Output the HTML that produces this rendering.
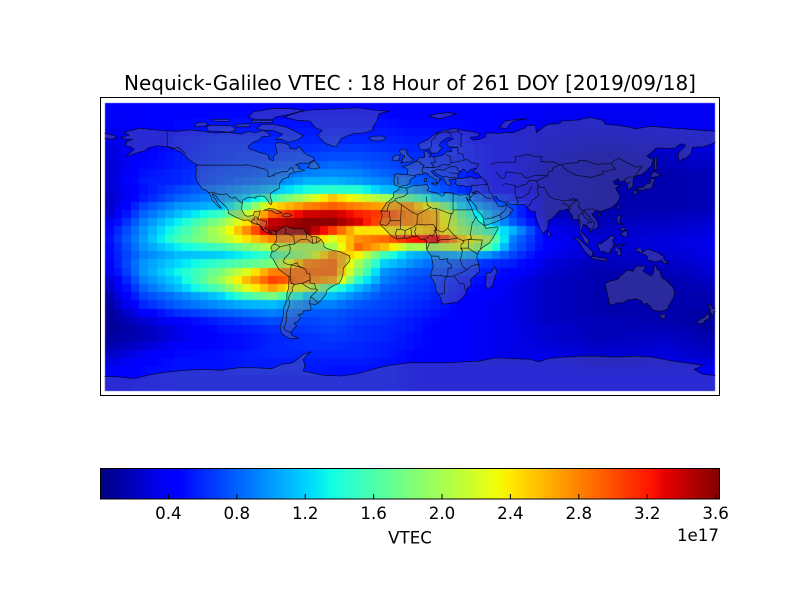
<!DOCTYPE html>
<html><head><meta charset="utf-8"><style>
html,body{margin:0;padding:0;background:#fff;}
#wrap{position:relative;width:800px;height:600px;overflow:hidden;background:#fff;}
canvas,svg{position:absolute;left:0;top:0;}
text{font-family:"DejaVu Sans","Liberation Sans",sans-serif;fill:#000;}
</style></head><body><div id="wrap">
<canvas id="cv" width="800" height="600"></canvas>
<svg width="800" height="600" viewBox="0 0 800 600" xmlns="http://www.w3.org/2000/svg">
<defs>
<clipPath id="mc" clipPathUnits="userSpaceOnUse"><rect x="104.5" y="103" width="611" height="288"/></clipPath>
<linearGradient id="jet" x1="0" y1="0" x2="1" y2="0">
<stop offset="0" stop-color="rgb(0,0,128)"/>
<stop offset="0.11" stop-color="rgb(0,0,255)"/>
<stop offset="0.125" stop-color="rgb(0,0,255)"/>
<stop offset="0.34" stop-color="rgb(0,219,255)"/>
<stop offset="0.35" stop-color="rgb(0,230,247)"/>
<stop offset="0.375" stop-color="rgb(21,255,226)"/>
<stop offset="0.64" stop-color="rgb(239,255,8)"/>
<stop offset="0.65" stop-color="rgb(247,245,0)"/>
<stop offset="0.66" stop-color="rgb(255,236,0)"/>
<stop offset="0.89" stop-color="rgb(255,19,0)"/>
<stop offset="0.91" stop-color="rgb(232,0,0)"/>
<stop offset="1" stop-color="rgb(128,0,0)"/>
</linearGradient>
</defs>
<g clip-path="url(#mc)">
<g transform="translate(410,246.5) scale(1.722222,-1.661111)" fill="rgb(128,128,128)" fill-opacity="0.33" stroke="#000" stroke-opacity="0.8" stroke-width="0.7" stroke-linejoin="round">
<polygon vector-effect="non-scaling-stroke" points="-168,65.6 -163,67 -166,68.9 -157,71.2 -150,70.4 -141,69.6 -135,69.4 -128,70.2 -120,69.4 -113,68.2 -106,68.8 -98,67.8 -94,69.2 -90,68.6 -85,69.8 -82,68.2 -81,66.6 -86,66 -87.5,64.2 -91,62.8 -94.2,60 -93,58.8 -88,56.8 -82.3,55.2 -82,52.8 -79.5,51.5 -79,54.5 -77,56.2 -77.5,58.2 -78.2,60.8 -77.5,62.5 -73,62.2 -70,61 -69.6,59 -66,58.6 -64.5,60.3 -61.5,56.5 -60,55.3 -56,53.6 -55.7,52 -59,50.2 -64,50.2 -66.5,49.2 -64.3,48.3 -64.8,46.9 -61,45.8 -66,44.9 -70,43.7 -70.6,41.6 -74,40.6 -75.5,38.5 -76,37 -75.5,35.3 -77.9,34 -81,32 -81.2,30 -80.1,26.8 -80.6,25.2 -81.7,25.9 -82.8,28 -84.3,30 -86.5,30.4 -89.5,30.2 -89.4,29 -91,29.3 -93.8,29.7 -97.2,27.8 -97.5,25 -97.8,22.3 -96,19 -94.5,18.2 -91,18.6 -90.4,21 -87,21.5 -87.6,18.8 -88.3,16 -86,16 -83.2,15 -83.8,11 -81.7,9 -79.5,9.6 -77.4,8.7 -78.2,7.5 -80.4,7.3 -80.2,8.4 -81.8,8.2 -83.6,8.7 -85.7,10 -85.8,11.5 -87.5,13 -91,13.9 -94,16 -96.5,15.7 -101,17.5 -105.5,20 -105.5,21.5 -106.6,23.6 -109,26 -111,28 -112.8,30.5 -114.8,31.7 -114.3,30 -113,28.5 -112,26.5 -110.5,24.2 -109.5,23.2 -110.2,23 -112.1,24.8 -114.2,27.2 -115.1,28 -115.7,30.4 -117.1,32.6 -118.5,34 -120.6,34.6 -122.5,37.5 -123.8,39.6 -124.4,42.5 -124,46.2 -124.7,48.4 -123,48.9 -125,50 -127.9,52 -130.3,54.5 -133,57 -136.5,58.2 -139.8,59.8 -146,60.7 -151.5,59.5 -154,57.6 -158,56.5 -161.8,55.2 -164.8,54.4 -160,58.5 -162,59.9 -165,60.8 -164.5,63.2 -161,64.6 -165,64.6"/>
<polygon vector-effect="non-scaling-stroke" points="-73,78 -66,80.5 -60,82 -45,82.8 -30,83.5 -20,82 -12,81.5 -18,80 -19,76 -21.5,72 -22,70 -27,68.3 -33,67.9 -40,65 -42.8,60.1 -45,60.5 -49,62 -52,65 -53.5,67 -51,70 -55,71.5 -58,75.5 -66,76"/>
<polygon vector-effect="non-scaling-stroke" points="-62,66.8 -64,65 -67,63.7 -71,62.8 -74.5,64.5 -78,64.5 -74,67.5 -76,68.5 -80,70 -85,70 -89,71 -86,73.5 -80,73.7 -72,72 -67,69.5"/>
<polygon vector-effect="non-scaling-stroke" points="-118,71.5 -117.5,73 -110,73 -103,72.5 -101,70 -105,68.8 -112,69.4 -117,69.5"/>
<polygon vector-effect="non-scaling-stroke" points="-125,71.9 -117,72.9 -119,75 -124,74.3"/>
<polygon vector-effect="non-scaling-stroke" points="-90,76.5 -80,76.3 -78,78 -72,79 -65,81 -62,82.2 -70,83 -80,83 -91,81 -94,78"/>
<polygon vector-effect="non-scaling-stroke" points="-92,74.5 -80,74.5 -80,76 -92,76"/>
<polygon vector-effect="non-scaling-stroke" points="-114,75.5 -105,75.2 -105,76.5 -115,76.5"/>
<polygon vector-effect="non-scaling-stroke" points="-101,72 -93,72 -93,74 -101,73.5"/>
<polygon vector-effect="non-scaling-stroke" points="-59.4,47.6 -55.5,46.6 -52.6,47.5 -53.5,49.5 -55.6,51.6 -57.5,50.7"/>
<polygon vector-effect="non-scaling-stroke" points="-85,21.8 -82,22.8 -78.5,22.5 -74.2,20.2 -77.6,19.9 -81,21.8"/>
<polygon vector-effect="non-scaling-stroke" points="-74.4,18.4 -72.8,19.9 -69.8,19.6 -68.4,18.6 -71.5,17.8"/>
<polygon vector-effect="non-scaling-stroke" points="-77.4,8.7 -75.5,10.5 -74,11.3 -71.5,12.4 -70.5,11.5 -68,10.6 -64,10.6 -61.8,10.7 -60.5,8.5 -57,6 -54,5.8 -51.5,4.2 -50,1.8 -50,0 -48.5,-1 -44.5,-2.5 -41,-2.9 -37.5,-4.6 -35.2,-5.5 -34.8,-7.5 -35.2,-9 -37,-11 -38.7,-13 -39,-17.5 -39.7,-19.5 -41,-22 -43,-23 -45,-23.8 -48.5,-26.5 -48.7,-28.5 -50.5,-31 -53,-33.8 -54.9,-34.9 -57.8,-34.5 -58.4,-34 -57.6,-36.3 -57.5,-38.2 -62,-38.9 -62.3,-40.5 -65,-41 -63.5,-42.8 -65,-45 -67.5,-46.3 -65.8,-47.8 -68.3,-50.5 -69,-52.2 -68.5,-53.5 -65,-55 -68,-55.6 -71,-55 -74.5,-52.5 -75.5,-48 -74,-44 -73.5,-41 -73.5,-37 -71.5,-32.5 -71.5,-28.5 -70.5,-25 -70.2,-18.4 -71.5,-17.3 -76,-14 -77.2,-12 -79.5,-7.5 -81.2,-6 -80.3,-3.4 -80,-2.2 -80.9,-1 -80,0.8 -78.9,1.5 -77.5,3.8 -77.5,6.5 -77.9,7.2"/>
<polygon vector-effect="non-scaling-stroke" points="-5.9,35.8 -2,35.1 1,36.5 5,36.8 10,37.2 11,35.2 10,34 11,33.2 15.2,32.3 19,30.3 20,31.6 20,32.6 23,32.6 25,31.8 29,30.9 32,31.2 34.2,31.3 34.9,29.5 34.2,27.8 33.6,28.3 32.6,29.9 33.6,27.5 35.5,24 37.4,18.5 38.6,17.5 39.7,15.2 43.3,12.6 44,11 51.2,11.9 51,10.4 48,4.8 46,2 42.2,-0.5 40,-2.8 39.2,-4.7 38.8,-6.5 39.6,-10 40.5,-15 37.5,-17.8 35,-20 35.5,-23.5 32.8,-25.8 32.4,-28.5 30.5,-31 27.5,-33.5 25,-34 22,-34.3 20,-34.8 18.4,-34 18,-32 17,-29 15.2,-27 14.5,-22.5 11.8,-17.5 13.5,-12 13,-8.8 12,-5 9.7,-2 9.4,1 9.8,3 8.5,4.5 6,4.3 4.5,6.3 1.5,6.1 -1.8,4.8 -4,5.2 -7.5,4.4 -9.5,5.5 -11.5,7 -13.2,8.9 -15,10.9 -16.7,12.4 -17.5,14.7 -16.5,16.3 -16.2,19.2 -17,21 -15,24 -13.5,26.5 -11.4,28 -9.7,29.8 -9.6,32.5 -6.8,34"/>
<polygon vector-effect="non-scaling-stroke" points="49.3,-12 50.5,-15.5 49.7,-17 47.8,-24 45.2,-25.5 43.6,-23.5 44.2,-20 44.2,-16.5 47,-15.6"/>
<polygon vector-effect="non-scaling-stroke" points="-5.6,36 -9,36.9 -8.9,38.5 -9.5,39.5 -8.7,42 -9.3,43.1 -8,43.7 -4,43.4 -1.5,43.4 -1.2,46 -2.4,47.2 -4.6,48.4 -1.6,48.7 1.4,50.1 3,51.2 4.3,52 5,53.3 8.5,53.6 8.6,55.5 8.1,56.8 10.4,57.6 10.5,56 12.5,55.6 10.9,54 14.2,53.9 18.5,54.8 21,56.5 21.5,57.4 24.2,57.2 23.5,59.2 28,59.7 23,60 21.4,61 21.5,63 25.4,65 22.2,65.8 17.8,62.8 17,60.7 18.8,59.5 16,56.3 12.7,56.2 11,58.8 8,58.1 5.6,58.4 5,61.8 10.5,64.4 14.6,67.8 19,69.8 25.8,71 31,69.8 37,69 41,67.6 38.5,66 34.8,65.8 36.3,64.1 40.5,64.5 44,66.1 44.2,68.4 53.5,68.1 54.5,68.8 60,68.5 66.5,71.2 68.2,73 72.8,72.8 73.4,68.5 78,72.2 80.5,73.5 87,74 88,75.5 98,76.2 104.3,77.7 112,76 113.5,73.4 120,73 128,71.8 131,70.8 140,72.4 150,71.4 159,70.8 170,69.8 178,69.4 180,69 180,65.2 178.6,64.5 177,62.5 173,61 170,60 164,59.8 163.3,56.2 162,54.8 160,53 158.5,52.9 156.7,51 156,53 155.6,55.5 156.8,57.5 160,60.5 159,61.8 156.5,61.5 154,59.3 151.5,59.1 143,59.3 137.5,54.2 141.3,52.3 140,48.4 135,43.5 131.6,42.6 129.7,41 129.5,38.5 129.4,36.1 127.6,34.7 126.4,34.5 126.3,37.6 124.7,39.7 121.2,38.8 121.2,40.8 118,39.2 119.2,37.2 122.5,36.9 120.5,36 119.4,35 120.9,32.3 121.9,30.8 121.5,28.4 119.6,25.6 117,23.5 113.8,22.2 110.5,21.1 110,20.3 109.6,21.8 108,21.6 106.7,20.7 105.7,19 108.9,15.3 109.3,11.6 106.2,10.2 104.8,8.6 104.5,10.5 102.5,12.3 100.8,13.5 99.2,9.2 101.2,6.9 103.5,4.5 104.2,1.3 103.3,1.5 101.3,2.9 100.3,5.3 98.5,8.4 98.2,12.6 97.8,16.4 94.8,16 94.2,18.8 92.4,20.7 91.5,22.7 88.9,21.8 86.9,21.6 85,19.5 82.1,16.5 80.3,15.8 80,10.6 77.5,8 76.6,8.9 74.9,12.7 73.5,16 72.8,19.3 72.6,21.3 70.5,20.9 69,22.4 66.6,25.4 62,25.1 57.4,25.7 56.5,27 54.7,26.5 51.5,27.9 50.1,30.1 48.6,29.9 48,30 49.6,27.3 50.8,25.4 51.3,24.2 54,24.1 56.2,25.7 56.8,24.2 59.8,22.3 58.5,20.4 57.7,19 55.3,17.3 52.2,15.9 49.6,14.7 45.6,13.3 43.5,12.7 42.6,15.2 42.8,16.6 41.2,19.5 39.1,21.3 38.5,23.7 35.1,28.1 34.6,28 34.9,29.5 34.3,31.3 35.5,33.9 36,35.8 36.1,36.7 34,36.2 32.5,36.1 30.6,36.7 27.6,36.7 26.3,38.2 26.8,39.5 26.2,40.9 29,41.1 31.2,41.1 35.2,42 38.3,40.9 41.6,41.5 39.5,44.1 37.4,44.5 36.7,45.3 38.7,47.1 35,46.3 33.5,44.5 32.5,45.3 31.8,46.3 30.7,46.6 29.6,45.1 28.8,44.9 27.7,42.6 28,41.6 26.2,40.8 23.9,40.1 22.6,40.3 24,37.7 22.8,36.5 21.3,37.6 20,39.7 19.4,41.8 15.9,43.5 13.6,45.6 12.3,45.3 13.5,43.6 16,41.9 18.5,40.1 17.2,40.4 16.6,39.3 17.1,39 16.1,38 15.7,38 15.6,40 14,40.8 12.5,41.6 11.2,42.4 10.2,43.9 8.9,44.4 7.5,43.8 6.5,43.1 4.6,43.4 3.1,43 3.2,41.9 0.8,41 -0.3,39.3 0.1,38.7 -0.7,37.6 -2.1,36.7 -4.4,36.7"/>
<polygon vector-effect="non-scaling-stroke" points="-180,69 -175,67.5 -171,66.5 -170,66 -173,64.5 -176,65.2 -180,65.2"/>
<polygon vector-effect="non-scaling-stroke" points="-5.7,50.1 -3,50.7 1.3,51.1 1.7,52.7 0.3,53.4 -0.5,54.5 -1.6,55.6 -2.1,57.5 -1.8,57.6 -3,58.6 -5,58.6 -6.2,57.5 -5.6,56.3 -4.9,55.1 -3.1,54.9 -3.4,54.4 -3,53.4 -4.6,53.3 -4.2,52.3 -5.3,51.8 -4.2,51.2"/>
<polygon vector-effect="non-scaling-stroke" points="-6,52.2 -6,53.5 -5.7,54.6 -7.3,55.3 -8.5,54.6 -10,54.2 -9.7,53.4 -10.3,52.1 -9.6,51.5 -8,51.7"/>
<polygon vector-effect="non-scaling-stroke" points="-22,63.9 -24,65.5 -22,66.4 -16,66.5 -14,65.5 -14.5,64.4 -18.7,63.4"/>
<polygon vector-effect="non-scaling-stroke" points="11,78.5 16,80 22,80.5 27,80 22,78.3 18,77 14,77.5"/>
<polygon vector-effect="non-scaling-stroke" points="52,71.5 56,71 58,73.5 60,75.5 68,77 62,76.5 55,75.5"/>
<polygon vector-effect="non-scaling-stroke" points="12.4,38.1 15.6,38.3 15.1,36.7"/>
<polygon vector-effect="non-scaling-stroke" points="8.4,41 9.8,41 9.6,39 8.4,39"/>
<polygon vector-effect="non-scaling-stroke" points="130.9,33.9 132.5,35.4 135.5,35.6 136.8,37.3 139.5,38.2 140,40.5 141.4,41.4 142,39.5 141,38 140.9,36 139.9,35 138.8,34.6 137,34.6 135.2,33.8 133,34.4"/>
<polygon vector-effect="non-scaling-stroke" points="129.7,33.3 131,33.9 132,33 131.2,31.3 130.2,31.2"/>
<polygon vector-effect="non-scaling-stroke" points="140,41.5 139.8,42.6 141.6,45.4 143.7,44.2 145.6,43.3 143.3,42 141.1,41.8"/>
<polygon vector-effect="non-scaling-stroke" points="142,46 143.5,46.5 143,49 143.3,51.8 143,54 142.3,54 142,51 141.9,48"/>
<polygon vector-effect="non-scaling-stroke" points="79.8,9.8 81.8,7.5 81.2,6.2 80,6"/>
<polygon vector-effect="non-scaling-stroke" points="121.5,25.3 122,24 120.8,22 120.1,23.3"/>
<polygon vector-effect="non-scaling-stroke" points="108.6,19.2 110.5,20.1 111,19.6 109.5,18.2"/>
<polygon vector-effect="non-scaling-stroke" points="120.6,18.5 122.2,18.5 122,16.3 121.6,15.9 122,14 124,13 123.3,13.8 121.3,13.6 120.6,14.4 120,16"/>
<polygon vector-effect="non-scaling-stroke" points="122,7.3 123.6,8.6 125.4,9.8 126.5,7.5 126,6.3 125.2,5.6 124,6.4"/>
<polygon vector-effect="non-scaling-stroke" points="122,10.5 124,11.5 125.5,11 124.5,10 122.8,9.2"/>
<polygon vector-effect="non-scaling-stroke" points="109.6,1.9 111,1.6 113,3.2 115.5,5.2 117,7 118,6 119.2,5.3 118,4.3 117.6,3 118.9,1 117.9,0.8 117.5,-0.8 116.5,-1.5 116.2,-3.7 114.6,-4 113,-3.1 110.2,-2.9 110,-1.4 109,0.3"/>
<polygon vector-effect="non-scaling-stroke" points="95.3,5.5 97.5,5.2 100.6,2.1 103.8,-0.9 106,-3.1 105.8,-5.8 104.6,-5.9 102.6,-4.2 100.9,-2.1 98.6,1.8"/>
<polygon vector-effect="non-scaling-stroke" points="105.2,-6.8 106.1,-5.9 108.5,-6.4 110.5,-6.9 112.6,-6.9 114.5,-7.8 114.5,-8.7 110.5,-8.2 108,-7.8 106.5,-7.4"/>
<polygon vector-effect="non-scaling-stroke" points="119,-1 119.8,0.2 120.8,1.3 124.4,1 125,1.6 123,0.4 121.3,0.5 120.1,-0.1 120.8,-1.4 123.2,-0.9 121.5,-1.9 122.5,-3.2 122.2,-5.3 120.3,-5.5 120.4,-2.9 119.2,-3.5 119.4,-5.4"/>
<polygon vector-effect="non-scaling-stroke" points="131,-1.2 134.2,-0.8 135,-3.4 137.9,-1.5 141,-2.6 145,-4.3 146,-5.5 147.6,-6 147.2,-7.4 150,-10.3 147.5,-10.1 146,-8.1 143.3,-9 141,-9.1 139.1,-8.1 138,-8.4 137.6,-5.6 135.2,-4.5 133.7,-3.5 132,-2.8 132.4,-4.1"/>
<polygon vector-effect="non-scaling-stroke" points="113.3,-22 114.2,-26.3 115,-30 115.7,-33.5 115,-34.3 118,-35.1 120,-34 123.5,-33.9 126,-32.3 131.3,-31.5 134.2,-32.6 135.9,-34.9 137.5,-34.1 138.2,-35 139.6,-36.1 140.6,-38 143.6,-38.8 146.3,-39 149.9,-37.5 150,-36 151.2,-33.9 153,-31 153.6,-28 153,-25 150.8,-22.6 149,-20.6 146.3,-19 145.4,-16.3 145.3,-14.9 143.6,-14 142.5,-10.7 141.5,-13.5 141.7,-15 140.6,-17.4 139,-17.3 136,-15.5 135.4,-14.7 136.9,-12.3 136.5,-11.9 134,-11.9 132.5,-11.6 131,-12.2 129.5,-14.9 127.8,-14.3 125.5,-14.5 124,-16.3 122.2,-17.7 121,-19.5 118.8,-20.3 116.7,-20.6 114.6,-21.8"/>
<polygon vector-effect="non-scaling-stroke" points="144.7,-40.7 148.3,-40.9 148,-43.2 146.9,-43.6 145.5,-42.2"/>
<polygon vector-effect="non-scaling-stroke" points="172.7,-34.4 174.3,-35.2 175.9,-37.2 178.5,-37.7 177,-39.3 176,-41.3 174.6,-41.3 175.2,-40.4 173.8,-39.2 174.6,-38"/>
<polygon vector-effect="non-scaling-stroke" points="172.6,-40.5 174.2,-41.7 173,-43.8 171.2,-44.5 170.6,-45.9 169,-46.6 166.5,-46 167,-45.1 168.3,-44 171,-42.5"/>
<polygon vector-effect="non-scaling-stroke" points="-181,-78 -170,-78.5 -160,-79.5 -150,-77 -140,-75.5 -130,-74.5 -120,-74 -110,-74.5 -100,-73 -90,-73 -80,-73.5 -75,-71 -68,-70 -62,-65 -57,-63.3 -59,-64.5 -62,-68 -61,-72 -62,-75 -50,-77.5 -40,-78 -30,-76.5 -20,-73.5 -12,-71.5 0,-70 10,-70 20,-70 30,-69.5 40,-69 50,-67 60,-67.5 70,-68 75,-69.5 80,-67.5 90,-66.5 100,-66 110,-66 120,-66.5 130,-66 140,-66.5 150,-68.5 160,-70 170,-71.5 165,-74 170,-77 181,-78 181,-92 -181,-92"/>
<g fill="none">
<polyline vector-effect="non-scaling-stroke" points="-123,49 -95,49 -95,49.4 -89.5,48 -84.5,46.5 -82.4,45.3 -82.5,42 -79,42.8 -79.2,43.5 -76.5,44.2 -74.7,45 -71.5,45 -70,46.7 -69.2,47.4 -68,47.3 -67.8,45.7 -67,45"/>
<polyline vector-effect="non-scaling-stroke" points="-141,69.6 -141,60.3 -137,59 -135,59.8 -130,55.9"/>
<polyline vector-effect="non-scaling-stroke" points="-117.1,32.6 -114.7,32.7 -111,31.3 -108.2,31.3 -106.5,31.8 -104.5,29.6 -103,29 -101.4,29.8 -99.5,27.5 -97.2,25.9"/>
<polyline vector-effect="non-scaling-stroke" points="-92.2,14.5 -91.4,16 -90.4,16 -90.4,17.8 -89,17.8 -88.3,16"/>
<polyline vector-effect="non-scaling-stroke" points="-89.4,14.4 -87.5,13 -85.7,10 -83.6,11"/>
<polyline vector-effect="non-scaling-stroke" points="-51.6,4.2 -54,2.3 -56.5,1.9 -60,4.5 -64,4 -67,1.5 -70,1.2 -69.5,-1 -70,-4 -73,-7.3 -73.5,-9.5 -70.6,-11 -69,-11 -65.4,-9.8 -65,-11.5 -62,-13 -60.5,-13.8 -60,-16 -58.2,-16.3 -58,-20 -58,-22 -55.5,-22.3 -54.6,-25.6 -53.6,-26.2 -57.6,-30.2 -53.4,-33.7"/>
<polyline vector-effect="non-scaling-stroke" points="-69,-22 -67,-23 -68.5,-25 -68.3,-27 -69.6,-28.5 -70.5,-31 -69.9,-34 -70.3,-36 -71,-38 -71.7,-40 -71.8,-44 -72,-46 -73.3,-49 -72.3,-50.5 -69,-52"/>
<polyline vector-effect="non-scaling-stroke" points="-80.3,-3.4 -78,-2.5 -75.5,-0.2 -70,1.2"/>
<polyline vector-effect="non-scaling-stroke" points="-75.5,-0.2 -77,0.8 -78.9,1.5"/>
<polyline vector-effect="non-scaling-stroke" points="-62,-13 -69,-11 -69.6,-17.5 -70.4,-18.3"/>
<polyline vector-effect="non-scaling-stroke" points="-69.6,-17.5 -69,-22 -67.2,-22.8 -62.6,-22.2 -58,-20"/>
<polyline vector-effect="non-scaling-stroke" points="-62.6,-22.2 -61,-23.5 -57.6,-25.5 -54.6,-25.6"/>
<polyline vector-effect="non-scaling-stroke" points="-57.6,-30.2 -58.4,-34"/>
<polyline vector-effect="non-scaling-stroke" points="-72,11.2 -72.5,8 -67.5,6.2 -67,1.5"/>
<polyline vector-effect="non-scaling-stroke" points="-60,8.3 -60.2,5.2"/>
<polyline vector-effect="non-scaling-stroke" points="-57,6 -56.5,1.9"/>
<polyline vector-effect="non-scaling-stroke" points="-54,5.8 -54.3,2.3"/>
<polyline vector-effect="non-scaling-stroke" points="-17,21.3 -13,21.3 -13,23 -12,26 -8.7,27.7 -8.7,28.7 -3.6,30.2 -1.2,32.1 -2.2,35.1"/>
<polyline vector-effect="non-scaling-stroke" points="-8.7,27.7 -4.8,25 1.2,20.7 4.3,19.2 12,23.5 14,22.6 15,23 24,19.5 24,20 25,20 25,22 36.9,22"/>
<polyline vector-effect="non-scaling-stroke" points="9.5,30 10,25 12,23.5"/>
<polyline vector-effect="non-scaling-stroke" points="25,31.7 25,22"/>
<polyline vector-effect="non-scaling-stroke" points="-16.7,13.2 -13.7,12.6 -12,14.5 -11.5,15.6 -5.5,15.5 -5.4,10.4 -2.8,9.6 0,11 2.3,11.9 4,13.5 8.5,13 13.6,13.2 14.5,12 15.5,10 14,9.6 14.8,8.7 13,6.2 11.8,7 9.5,4.7"/>
<polyline vector-effect="non-scaling-stroke" points="-11.5,15.6 -12,21.3"/>
<polyline vector-effect="non-scaling-stroke" points="-5.5,15.5 -5,24.8"/>
<polyline vector-effect="non-scaling-stroke" points="4,13.5 4.3,19.2"/>
<polyline vector-effect="non-scaling-stroke" points="15,23 15.6,20 15.5,10 18.9,8.6 22,11 24,8.5 27.5,5 30.8,3.5 31,3.7 34,4.2 35.9,5 35,7 36.2,14.5 36.5,14.3 38.4,18"/>
<polyline vector-effect="non-scaling-stroke" points="22,11 23,15.6 24,19.5"/>
<polyline vector-effect="non-scaling-stroke" points="14.5,12 16,3.5 18.6,4.2 22.5,4.2 27.5,5"/>
<polyline vector-effect="non-scaling-stroke" points="9.7,-2 11.3,2.2 16,2.2 16,3.5"/>
<polyline vector-effect="non-scaling-stroke" points="12.2,-5.8 16.5,-5.8 17.5,-8 21.8,-7.3 22,-9.7 24,-11 24,-13 22,-13 22,-16.9 20.9,-18.3 25.3,-17.8 29,-16 30.4,-15.6 33,-14 30.5,-12 29.2,-8.2 30.5,-2.4 29.5,-1.4 29.6,1 31,2.3 31,3.7"/>
<polyline vector-effect="non-scaling-stroke" points="11.8,-17.3 18,-17.4 20.9,-18.3 20,-22 20,-24.8 20,-28.4 17,-28.5"/>
<polyline vector-effect="non-scaling-stroke" points="25.3,-17.8 29,-22.2 31.3,-22.4 32,-26.7"/>
<polyline vector-effect="non-scaling-stroke" points="33.9,-1 29.6,-1 30.5,-2.4"/>
<polyline vector-effect="non-scaling-stroke" points="33.9,-1 37.5,-3.5 39.2,-4.7"/>
<polyline vector-effect="non-scaling-stroke" points="34,4.2 41,3.9 42,4 41,-1.6"/>
<polyline vector-effect="non-scaling-stroke" points="34,-1 34,4.2"/>
<polyline vector-effect="non-scaling-stroke" points="33,-14 35.9,-11.5 40.5,-10.5"/>
<polyline vector-effect="non-scaling-stroke" points="3.6,6.3 2.7,9 3.6,11.7"/>
<polyline vector-effect="non-scaling-stroke" points="1.2,6.1 0.5,11"/>
<polyline vector-effect="non-scaling-stroke" points="-3.1,5 -2.8,9.6"/>
<polyline vector-effect="non-scaling-stroke" points="-7.5,4.4 -8.4,7.6 -7.7,10.4 -5.5,10.4"/>
<polyline vector-effect="non-scaling-stroke" points="3,51.2 6,50.8 6.2,49.5 8.2,49 7.6,47.6 10.5,47.5 13,47.5 16.9,48 17,48.6 19,49.4 22.5,49 24,50.5 23.6,52 23.5,54 21,55.2"/>
<polyline vector-effect="non-scaling-stroke" points="14.2,53.9 14.6,51.8 15,51 12.1,50.3 13.8,48.8 13,47.5"/>
<polyline vector-effect="non-scaling-stroke" points="7.6,47.6 7,45.9 7.5,43.8"/>
<polyline vector-effect="non-scaling-stroke" points="-1.8,43.4 3.2,42.4"/>
<polyline vector-effect="non-scaling-stroke" points="-7,42 -7,37.2"/>
<polyline vector-effect="non-scaling-stroke" points="13.6,45.5 16.5,46.5 19,45.9 20.3,46.2 22.7,47.9 26.6,48.2 28.2,45.5 29.6,45.1"/>
<polyline vector-effect="non-scaling-stroke" points="19.4,41.8 21,42.3 23,41.4 26.3,41.7"/>
<polyline vector-effect="non-scaling-stroke" points="22.5,44.5 28,43.8"/>
<polyline vector-effect="non-scaling-stroke" points="28,59.7 27.7,57.5 28.2,56 30.8,55.5 31.5,52.1 34,52.2 35.4,50.5 40,49.6 38.7,47.1"/>
<polyline vector-effect="non-scaling-stroke" points="24,50.5 30,51.5 31.5,52.1"/>
<polyline vector-effect="non-scaling-stroke" points="30.5,59.9 29,61.2 30,63 29.5,64.7 30,67.7 28.5,68.5 28.2,69.8"/>
<polyline vector-effect="non-scaling-stroke" points="11,58.8 12.3,60 12.6,61.5 12.2,63.5 14.5,65.5 16,68 20.5,69 21,69.1 25.8,68.8 28.5,69.8"/>
<polyline vector-effect="non-scaling-stroke" points="24,65.8 23.6,67.9 21,69.1"/>
<polyline vector-effect="non-scaling-stroke" points="50,45 53,41 55,41.2 55.8,45 61,44.3 65,43.7 66.5,41.4 69,41.4 71,42.3 73.5,43 79.8,42.5 80.5,45 82.5,45.5 83,47.2 86.5,49 87.3,49.1"/>
<polyline vector-effect="non-scaling-stroke" points="47,49 48,50 51.5,50.6 55,50.8 61,50.8 61.5,52 61,54 65,54.6 68,55.4 73.5,54 76.5,54.1 76,51.4 80.5,50.8 83,51 87.3,49.1"/>
<polyline vector-effect="non-scaling-stroke" points="87.3,49.1 91,50 98,50.5 98,52 102,51.7 106,50.3 108,49.5 116.7,49.9 119,52 121,53.2 127,50 131,47.8 134.7,48.3 131,43 130.6,42.4"/>
<polyline vector-effect="non-scaling-stroke" points="87.8,49.2 91,46 96,43 105,41.6 112,43.7 111.5,45 114.5,45.4 119.8,46.7 118,48 116.7,49.9"/>
<polyline vector-effect="non-scaling-stroke" points="73.5,39.5 74.5,37 75,35.5 78,35.5 79.5,32.5 81,30 84,28.5 88,27.8 92,27.8 95,29 97,28 98.5,25.5 97.7,24 99.5,22 101,21.5 102,22.4 106.7,22.7 108,21.6"/>
<polyline vector-effect="non-scaling-stroke" points="73.5,39.5 71,40 69,39.5 67.5,37.3 66.5,37.4 62,35.5 61,36.6 55.5,37.9 54,37.3"/>
<polyline vector-effect="non-scaling-stroke" points="73.5,39.5 76,40.5 79.8,42.5"/>
<polyline vector-effect="non-scaling-stroke" points="44,39.4 45.6,35.9 46,33 47.8,31 48,30"/>
<polyline vector-effect="non-scaling-stroke" points="36,37 38.3,36.8 42.4,37.2 44.8,37.2 44,39.4 41.5,41.5"/>
<polyline vector-effect="non-scaling-stroke" points="36,32.3 38.8,33.4 41,32 42,31.1 44.7,29.2 47.5,29"/>
<polyline vector-effect="non-scaling-stroke" points="36,32.3 39,32 37,31.5 35,29.4"/>
<polyline vector-effect="non-scaling-stroke" points="43.3,16.5 47,17 52,19 55.5,22 56,25.3"/>
<polyline vector-effect="non-scaling-stroke" points="52,19 53.2,16.7"/>
<polyline vector-effect="non-scaling-stroke" points="61,36.6 61,31.5 62,29.5 61.5,29 63,27.2 61.6,25.2"/>
<polyline vector-effect="non-scaling-stroke" points="71,36.5 69.5,33.9 69.3,31.9 67,31.2 66.3,29.8 62,29.5"/>
<polyline vector-effect="non-scaling-stroke" points="74.5,37 74,34 74.5,32 75,31 73.9,30 71,27.9 70,25.5 68.2,23.7"/>
<polyline vector-effect="non-scaling-stroke" points="88.1,26.4 89.5,26 89.8,25.2 92,24.8 92.5,21.5"/>
<polyline vector-effect="non-scaling-stroke" points="92,27.8 97,28 95,26.5 93.5,25 92.5,21.5"/>
<polyline vector-effect="non-scaling-stroke" points="101,21.5 104,18 105.3,16 107.5,14.5 106,11 104.5,10.5"/>
<polyline vector-effect="non-scaling-stroke" points="100,20.4 101,18 102.6,16.5 105.5,14.5 103,14.3 102.5,12.3"/>
<polyline vector-effect="non-scaling-stroke" points="98.2,10 99,14 98.5,16 97.5,18.5 100,20.4 101,21.5"/>
<polyline vector-effect="non-scaling-stroke" points="124.3,40 126.5,41.7 128.5,41.8 130.6,42.4"/>
<polyline vector-effect="non-scaling-stroke" points="126.3,37.8 128.4,38.6"/>
</g>
</g>
</g>
<rect x="100.5" y="97.5" width="619" height="298" fill="none" stroke="#000" stroke-width="1"/>
<text x="410" y="90" text-anchor="middle" font-size="20">Nequick-Galileo VTEC : 18 Hour of 261 DOY [2019/09/18]</text>
<rect x="100.5" y="468.5" width="619" height="30.5" fill="url(#jet)" stroke="#000" stroke-width="1"/>
<g stroke="#000" stroke-width="1">
<line x1="168.4" y1="494" x2="168.4" y2="499"/>
<line x1="236.8" y1="494" x2="236.8" y2="499"/>
<line x1="305.2" y1="494" x2="305.2" y2="499"/>
<line x1="373.6" y1="494" x2="373.6" y2="499"/>
<line x1="442" y1="494" x2="442" y2="499"/>
<line x1="510.4" y1="494" x2="510.4" y2="499"/>
<line x1="578.8" y1="494" x2="578.8" y2="499"/>
<line x1="647.2" y1="494" x2="647.2" y2="499"/>
<line x1="715.6" y1="494" x2="715.6" y2="499"/>
</g>
<g font-size="16.67" text-anchor="middle">
<text x="168.4" y="519">0.4</text>
<text x="236.8" y="519">0.8</text>
<text x="305.2" y="519">1.2</text>
<text x="373.6" y="519">1.6</text>
<text x="442" y="519">2.0</text>
<text x="510.4" y="519">2.4</text>
<text x="578.8" y="519">2.8</text>
<text x="647.2" y="519">3.2</text>
<text x="715.6" y="519">3.6</text>
<text x="410" y="543.5">VTEC</text>
<text x="719" y="541" text-anchor="end">1e17</text>
</g>
</svg>
</div>
<script>
(function(){
var L=[-175,-155,-135,-110,-95,-80,-60,-45,-30,-15,0,15,30,45,60,80,110,150,175];
var C=[
[11,10,10,9,9,8,8,7,7,7,7,6,6,7,10,13,14,13,13,12,10,7,6,4,3,2,2,2,3,4,6,8,10,11,12],
[11,11,11,11,11,12,12,13,14,15,14,15,19,22,25,27,28,27,25,27,27,25,22,19,16,11,7,5,5,7,10,12,13,13,13],
[12,12,13,13,14,14,15,15,16,16,19,22,27,31,36,40,43,36,31,34,37,34,31,25,22,17,12,9,9,11,13,14,14,14,14],
[12,13,14,15,16,17,17,18,19,20,24,27,31,42,52,58,56,43,33,42,50,54,46,33,27,21,16,14,13,13,14,14,14,14,14],
[12,13,14,15,16,17,18,19,20,22,27,33,45,58,67,76,67,50,37,46,62,71,62,43,30,23,18,15,14,14,15,15,15,14,14],
[12,13,14,15,16,17,18,20,22,24,31,43,67,81,94,97,77,58,43,50,77,84,74,50,31,25,20,17,16,16,16,15,15,14,14],
[12,13,14,15,16,17,19,21,25,30,38,58,77,93,99,99,75,55,55,77,80,78,60,33,25,21,19,18,17,17,16,15,15,14,14],
[12,13,14,15,16,18,20,23,26,30,40,70,81,94,99,85,62,55,75,80,80,73,42,31,25,21,20,19,18,17,16,15,14,14,14],
[12,13,14,15,16,18,20,22,25,28,39,62,77,88,92,67,76,80,65,55,50,40,31,25,21,19,18,17,17,16,16,15,14,14,14],
[12,13,14,15,16,17,19,20,22,25,31,55,73,84,80,67,80,71,42,33,27,25,22,20,19,18,17,16,16,15,15,14,14,14,14],
[12,12,13,14,15,16,17,18,20,22,28,46,75,77,77,66,88,55,31,27,22,20,19,18,17,16,15,15,14,14,13,13,13,13,13],
[11,12,13,14,15,16,16,17,18,20,22,33,58,71,72,72,91,55,27,22,20,18,17,16,15,14,13,12,12,12,12,12,12,12,12],
[11,12,13,13,14,15,15,15,16,16,17,28,33,46,50,55,70,62,30,20,17,15,14,13,12,12,11,11,11,11,11,11,12,12,12],
[11,11,12,12,12,13,13,13,13,13,14,19,25,30,34,42,55,46,27,17,15,13,12,11,10,10,10,10,10,10,10,10,11,12,12],
[11,11,11,10,10,10,10,10,10,10,11,15,19,19,21,30,25,23,19,15,12,10,9,9,9,9,9,9,9,9,9,10,11,12,12],
[10,10,9,9,8,8,7,6,6,6,6,6,5,5,8,10,11,11,10,8,7,6,6,6,6,6,6,7,7,8,9,10,11,12,12],
[10,10,9,8,7,6,5,4,4,4,4,4,4,4,5,6,7,7,6,5,4,4,4,4,4,4,5,5,5,6,7,8,10,11,12],
[10,10,10,9,8,7,6,5,4,4,4,4,4,5,6,7,8,8,7,6,5,4,4,4,4,4,4,5,6,7,8,9,10,11,12],
[10,10,10,9,9,8,7,6,5,5,5,5,5,6,7,8,9,9,9,8,7,6,5,4,4,3,3,3,4,5,6,8,10,11,12]
];
function val(lon,j){
  if(lon<=L[0])return C[0][j];
  for(var i=0;i<L.length-1;i++){
    if(lon<=L[i+1]){var f=(lon-L[i])/(L[i+1]-L[i]);return C[i][j]*(1-f)+C[i+1][j]*f;}
  }
  return C[L.length-1][j];
}
function seg(p,t){for(var i=0;i<p.length-1;i++){if(t<=p[i+1][0]){return p[i][1]+(p[i+1][1]-p[i][1])*(t-p[i][0])/(p[i+1][0]-p[i][0]);}}return p[p.length-1][1];}
var R=[[0,0],[0.35,0],[0.66,1],[0.89,1],[1,0.5]],G=[[0,0],[0.125,0],[0.375,1],[0.64,1],[0.91,0],[1,0]],B=[[0,0.5],[0.11,1],[0.34,1],[0.65,0],[1,0]];
function jet(t){t=Math.max(0,Math.min(1,t));return 'rgb('+Math.round(seg(R,t)*255)+','+Math.round(seg(G,t)*255)+','+Math.round(seg(B,t)*255)+')';}
var cv=document.getElementById('cv'),ctx=cv.getContext('2d');
var X0=105,W=610,Y0=103,H=288,NC=71,NR=35;
for(var k=0;k<NC;k++){
  var lon=-175+5*k;
  var xa=Math.round(X0+k*W/NC),xb=Math.round(X0+(k+1)*W/NC);
  for(var j=0;j<NR;j++){
    var ya=Math.round(Y0+j*H/NR),yb=Math.round(Y0+(j+1)*H/NR);
    ctx.fillStyle=jet(val(lon,j)/100);
    ctx.fillRect(xa,ya,xb-xa,yb-ya);
  }
}
})();
</script>
</body></html>
